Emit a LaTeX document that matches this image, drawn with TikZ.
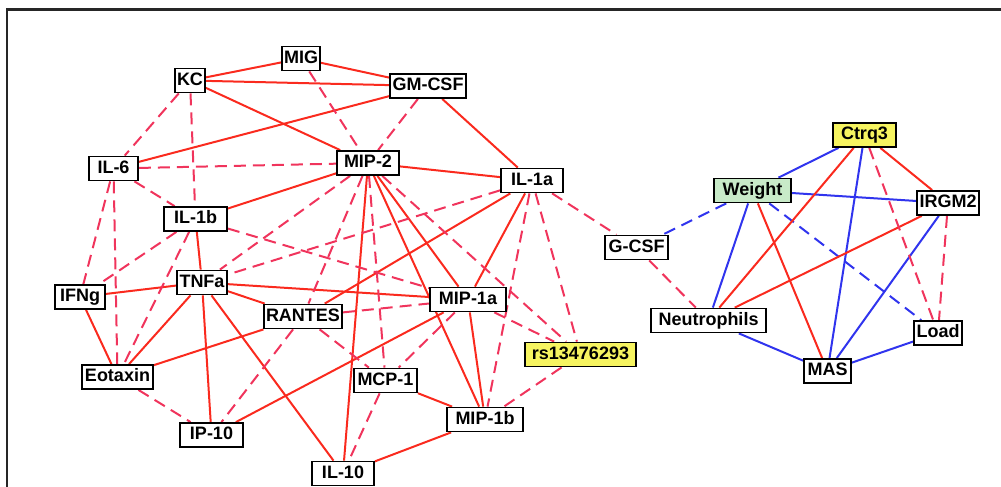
\documentclass[tikz,border=0pt]{standalone}
\usepackage{fontspec}
\setmainfont{Liberation Sans}
\pgfdeclarelayer{bg}
\pgfsetlayers{bg,main}
\definecolor{redsolid}{RGB}{250,42,30}
\definecolor{reddash}{RGB}{240,52,92}
\definecolor{bluesolid}{RGB}{48,52,238}
\definecolor{snpfill}{RGB}{246,244,96}
\definecolor{phenofill}{RGB}{200,234,200}
\begin{document}
\begin{tikzpicture}[x=1pt,y=-1pt,
  box/.style={draw=black, line width=1.8pt, fill=white,
    font=\fontsize{18}{20}\selectfont\bfseries,
    minimum height=24pt, minimum width=#1, inner xsep=2pt, inner ysep=0pt,
    text height=13pt, text depth=3.5pt},
  rs/.style={draw=redsolid, line width=2pt},
  rd/.style={draw=reddash, line width=2pt, dash pattern=on 12pt off 7pt},
  bs/.style={draw=bluesolid, line width=2pt},
  bdash/.style={draw=bluesolid, line width=2pt, dash pattern=on 12pt off 7pt}]
\useasboundingbox (0,0) rectangle (1001,487);

% frame
\draw[line width=2.2pt, black!85] (7,495) -- (7,9.5) -- (1010,9.5);

% cytokine network
\node[box=36pt] (mig) at (301,58.5) {MIG};
\node[box=30pt] (kc) at (190,80.5) {KC};
\node[box=76pt] (gm) at (428,86) {GM-CSF};
\node[box=49pt] (il6) at (113.5,168.5) {IL-6};
\node[box=62pt] (mip2) at (368,163) {MIP-2};
\node[box=63pt] (il1b) at (195.5,219) {IL-1b};
\node[box=62pt] (il1a) at (532,180.5) {IL-1a};
\node[box=63pt] (gcsf) at (636.5,247.5) {G-CSF};
\node[box=111pt, fill=snpfill] (snp) at (580.5,354.5) {rs13476293};
\node[box=76pt] (mip1a) at (468,299.5) {MIP-1a};
\node[box=50pt] (tnfa) at (202,282.5) {TNFa};
\node[box=50pt] (ifng) at (80,297) {IFNg};
\node[box=78pt] (rantes) at (303,316.5) {RANTES};
\node[box=71pt] (eotaxin) at (117.5,377) {Eotaxin};
\node[box=63pt] (mcp1) at (385.5,380.5) {MCP-1};
\node[box=76pt] (mip1b) at (485,419.5) {MIP-1b};
\node[box=63pt] (ip10) at (211.5,435) {IP-10};
\node[box=62pt] (il10) at (343,473.5) {IL-10};

% phenotype network
\node[box=63pt, fill=snpfill] (ctrq) at (864.5,135) {Ctrq3};
\node[box=77pt, fill=phenofill] (weight) at (752.5,190.5) {Weight};
\node[box=62pt] (irgm) at (948,203) {IRGM2};
\node[box=115pt] (neut) at (708.5,320.5) {Neutrophils};
\node[box=48pt] (load) at (938,333) {Load};
\node[box=47pt] (mas) at (827.5,371) {MAS};

\begin{pgfonlayer}{bg}
% solid red links
\draw[rs] (mig) -- (kc);
\draw[rs] (mig) -- (gm);
\draw[rs] (kc) -- (gm);
\draw[rs] (kc) -- (mip2);
\draw[rs] (gm) -- (il6);
\draw[rs] (gm) -- (il1a);
\draw[rs] (mip2) -- (il1b);
\draw[rs] (mip2) -- (il1a);
\draw[rs] (mip2) -- (il10);
\draw[rs] (mip2) -- (mip1a);
\draw[rs] (mip2) -- (mip1b);
\draw[rs] (il1b) -- (tnfa);
\draw[rs] (tnfa) -- (ifng);
\draw[rs] (tnfa) -- (mip1a);
\draw[rs] (tnfa) -- (rantes);
\draw[rs] (tnfa) -- (eotaxin);
\draw[rs] (tnfa) -- (ip10);
\draw[rs] (tnfa) -- (il10);
\draw[rs] (ifng) -- (eotaxin);
\draw[rs] (eotaxin) -- (rantes);
\draw[rs] (rantes) -- (il1a);
\draw[rs] (mip1a) -- (ip10);
\draw[rs] (mip1a) -- (mip1b);
\draw[rs] (mip1a) -- (il1a);
\draw[rs] (mcp1) -- (mip1b);
\draw[rs] (mip1b) -- (il10);
% dashed red links
\draw[rd] (mig) -- (mip2);
\draw[rd] (kc) -- (il6);
\draw[rd] (kc) -- (il1b);
\draw[rd] (gm) -- (mip2);
\draw[rd] (il6) -- (mip2);
\draw[rd] (il6) -- (il1b);
\draw[rd] (il6) -- (ifng);
\draw[rd] (il6) -- (eotaxin);
\draw[rd] (mip2) -- (tnfa);
\draw[rd] (mip2) -- (rantes);
\draw[rd] (mip2) -- (mcp1);
\draw[rd] (mip2) -- (snp);
\draw[rd] (il1a) -- (tnfa);
\draw[rd] (il1a) -- (mip1b);
\draw[rd] (il1a) -- (snp);
\draw[rd] (il1a) -- (gcsf);
\draw[rd] (il1b) -- (mip1a);
\draw[rd] (il1b) -- (ifng);
\draw[rd] (il1b) -- (eotaxin);
\draw[rd] (eotaxin) -- (ip10);
\draw[rd] (rantes) -- (mip1a);
\draw[rd] (rantes) -- (mcp1);
\draw[rd] (rantes) -- (ip10);
\draw[rd] (mip1a) -- (mcp1);
\draw[rd] (mip1a) -- (snp);
\draw[rd] (snp) -- (mip1b);
\draw[rd] (mcp1) -- (il10);
\draw[rd] (gcsf) -- (neut);
% phenotype links
\draw[bs] (ctrq) -- (weight);
\draw[bs] (ctrq) -- (mas);
\draw[bs] (weight) -- (irgm);
\draw[bs] (weight) -- (neut);
\draw[bs] (irgm) -- (mas);
\draw[bs] (neut) -- (mas);
\draw[bs] (mas) -- (load);
\draw[bdash] (weight) -- (gcsf);
\draw[bdash] (weight) -- (load);
\draw[rs] (ctrq) -- (neut);
\draw[rs] (ctrq) -- (irgm);
\draw[rs] (weight) -- (mas);
\draw[rs] (irgm) -- (neut);
\draw[rd] (ctrq) -- (load);
\draw[rd] (irgm) -- (load);
\end{pgfonlayer}
\end{tikzpicture}
\end{document}
